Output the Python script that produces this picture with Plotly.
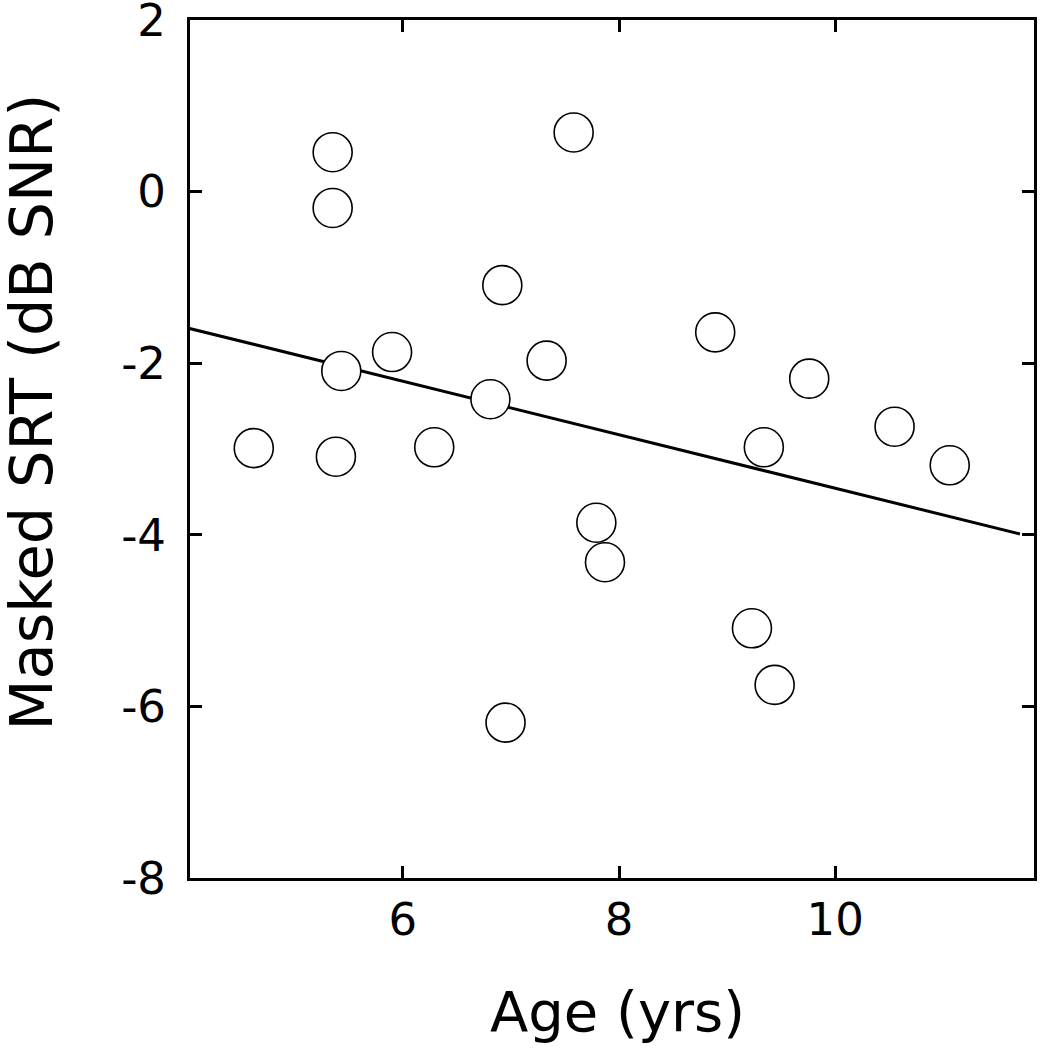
import plotly.graph_objects as go

# Data
age = [4.62, 5.35, 5.35, 5.43, 5.38, 5.90, 6.29, 6.81, 6.92, 6.95, 7.33,
       7.58, 7.79, 7.87, 8.89, 9.23, 9.34, 9.44, 9.76, 10.55, 11.06]
srt = [-2.99, 0.46, -0.19, -2.09, -3.09, -1.87, -2.98, -2.42, -1.09, -6.19, -1.97,
       0.69, -3.86, -4.32, -1.64, -5.09, -2.98, -5.75, -2.18, -2.74, -3.19]

fit_x = [4.01, 11.71]
fit_y = [-1.59, -3.99]

x_ticks = [6, 8, 10]
y_ticks = [2, 0, -2, -4, -6, -8]

x_title = "Age (yrs)"
y_title = "Masked SRT (dB SNR)"

FONT = "DejaVu Sans"

fig = go.Figure()
fig.add_trace(go.Scatter(x=fit_x, y=fit_y, mode="lines",
                         line=dict(color="black", width=3), showlegend=False))
fig.add_trace(go.Scatter(x=age, y=srt, mode="markers",
                         marker=dict(size=39, color="white",
                                     line=dict(color="black", width=1.6)),
                         showlegend=False))

fig.update_layout(
    width=1050, height=1048,
    margin=dict(l=190, r=16, t=20, b=170, autoexpand=False),
    paper_bgcolor="white", plot_bgcolor="white",
    font=dict(family=FONT, color="black", size=45),
)
fig.update_xaxes(
    range=[4.03, 11.84], tickvals=x_ticks, ticktext=[str(v) for v in x_ticks],
    ticks="inside", ticklen=12, tickwidth=3, tickcolor="black",
    showline=True, linecolor="black", linewidth=3, mirror="ticks",
    showgrid=False, zeroline=False, automargin=False,
    tickfont=dict(size=45, family=FONT),
    ticklabelstandoff=0, ticklabeloverflow="allow",
)
fig.update_yaxes(
    range=[-8.001, 2.001], tickvals=y_ticks, ticktext=[str(v) for v in y_ticks],
    ticks="inside", ticklen=12, tickwidth=3, tickcolor="black",
    showline=True, linecolor="black", linewidth=3, mirror="ticks",
    showgrid=False, zeroline=False, automargin=False,
    tickfont=dict(size=45, family=FONT),
    ticklabelstandoff=12, ticklabeloverflow="allow",
)

fig.add_annotation(text=x_title, xref="paper", yref="paper",
                   x=0.506, y=-0.156, xanchor="center", yanchor="middle",
                   showarrow=False, font=dict(size=56, family=FONT, color="black"))
fig.add_annotation(text=y_title, xref="paper", yref="paper",
                   x=-0.188, y=0.543, xanchor="center", yanchor="middle",
                   textangle=-90,
                   showarrow=False, font=dict(size=59, family=FONT, color="black"))

fig.write_html("out.html",
               config={"displayModeBar": False},
               post_script="document.body.style.margin='0';document.body.style.overflow='hidden';")
